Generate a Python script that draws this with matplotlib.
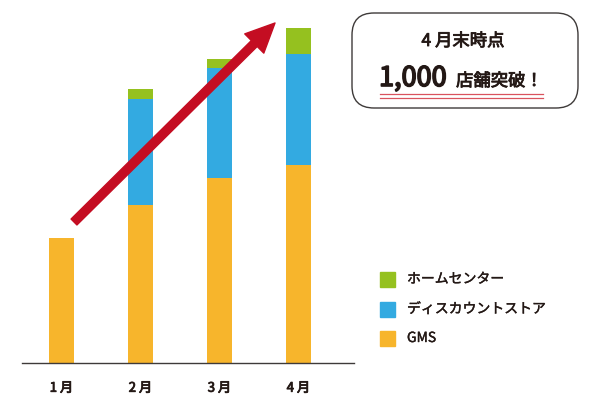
import matplotlib
matplotlib.use('Agg')
import matplotlib.pyplot as plt
import matplotlib.patheffects as pe
from matplotlib.patches import FancyBboxPatch, FancyArrowPatch, Rectangle
import numpy as np

plt.rcParams['font.family'] = ['Noto Sans CJK JP', 'DejaVu Sans']

months = ['1 月', '2 月', '3 月', '4 月']
gms = [373, 472, 552, 591]
discount = [0, 316, 328, 331]
home = [0, 30, 27, 78]
legend_labels = ['ホームセンター', 'ディスカウントストア', 'GMS']
c_home = '#95C11F'
c_disc = '#33AAE1'
c_gms = '#F7B52C'
legend_colors = [c_home, c_disc, c_gms]
headline_sub = '4 月末時点'
headline_num = '1,000'
headline_txt = '店舗突破！'

W, H = 600, 403
txt_col = '#231815'
med = [pe.withStroke(linewidth=0.6, foreground=txt_col)]
fig = plt.figure(figsize=(6, 4.03), dpi=100)
ax = fig.add_axes([22 / W, (H - 363) / H, 332 / W, 363 / H])
x = np.arange(len(months))
gms_a = np.array(gms)
disc_a = np.array(discount)
home_a = np.array(home)
bw = 25 / 79
ax.bar(x, gms_a, bw, color=c_gms)
ax.bar(x, disc_a, bw, bottom=gms_a, color=c_disc)
ax.bar(x, home_a, bw, bottom=gms_a + disc_a, color=c_home)
ax.set_xlim(-0.5, 332 / 79 - 0.5)
ax.set_ylim(0, 1084)
for s in ['top', 'right', 'left']:
    ax.spines[s].set_visible(False)
ax.spines['bottom'].set_color('#3e3a39')
ax.spines['bottom'].set_linewidth(1.0)
ax.set_yticks([])
ax.set_xticks(x, months)
ax.tick_params(axis='x', length=0, pad=13.5, labelsize=9.5, labelcolor=txt_col)
for lab in ax.get_xticklabels():
    lab.set_path_effects(med)
ax.patch.set_alpha(0)

ov = fig.add_axes([0, 0, 1, 1])
ov.set_xlim(0, W)
ov.set_ylim(H, 0)
ov.axis('off')

arr = FancyArrowPatch((74, 222), (275, 23),
                      arrowstyle='simple,head_width=19.5,head_length=21,tail_width=6',
                      mutation_scale=1, color='#C40D22', shrinkA=0, shrinkB=0)
ov.add_patch(arr)

box = FancyBboxPatch((352, 13), 226, 95, boxstyle='round,pad=0,rounding_size=22',
                     fc='white', ec='#3e3a39', lw=1.0)
ov.add_patch(box)
ov.text(463, 41, headline_sub, ha='center', va='center', fontsize=12.5,
        color=txt_col, path_effects=med)
ov.text(379, 86, headline_num, ha='left', va='baseline', fontsize=19.5,
        color=txt_col, path_effects=[pe.withStroke(linewidth=1.2, foreground=txt_col)])
ov.text(456, 86, headline_txt, ha='left', va='baseline', fontsize=12.5,
        color=txt_col, path_effects=med)
ov.plot([380, 543], [94, 94], color='#D9535E', lw=0.9)
ov.plot([380, 543], [97.5, 97.5], color='#D9535E', lw=0.9)

ys = [279, 309, 338]
for lab, col, yc in zip(legend_labels, legend_colors, ys):
    ov.add_patch(Rectangle((380, yc - 7.5), 15, 15, color=col))
    ov.text(407, yc, lab, ha='left', va='center', fontsize=10, color=txt_col,
            path_effects=[pe.withStroke(linewidth=0.3, foreground=txt_col)])

fig.savefig('out.png', dpi=100)
